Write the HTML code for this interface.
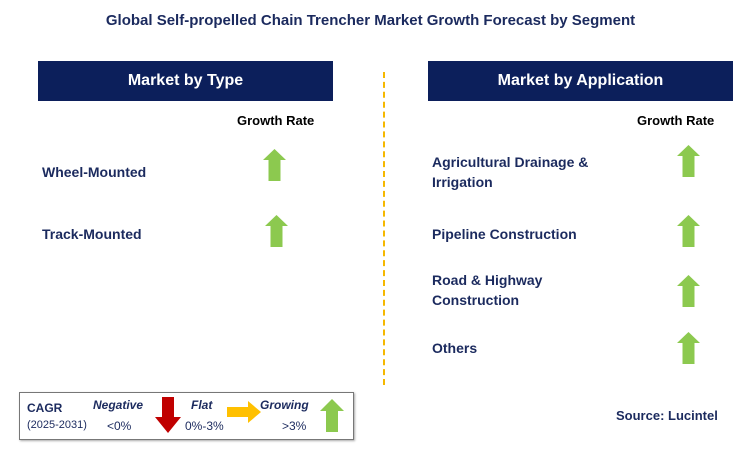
<!DOCTYPE html>
<html><head><meta charset="utf-8"><style>
body{margin:0;width:741px;height:464px;background:#fff;position:relative;font-family:"Liberation Sans",sans-serif;overflow:hidden}
.a{position:absolute}
.hdr{position:absolute;background:#0c1f5b;color:#fff;font-weight:bold;font-size:16px;display:flex;align-items:center;justify-content:center}
.lbl{position:absolute;color:#1b2a5e;font-weight:bold;font-size:14px;line-height:20px}
.gr{position:absolute;font-size:13px;font-weight:bold;color:#000}
</style></head><body>
<div class="a" style="left:0;width:741px;top:12px;text-align:center;font-weight:bold;font-size:15px;color:#1b2a5e">Global Self-propelled Chain Trencher Market Growth Forecast by Segment</div>
<div class="hdr" style="left:38px;top:61px;width:295px;height:40px">Market by Type</div>
<div class="hdr" style="left:428px;top:61px;width:305px;height:40px">Market by Application</div>
<div class="gr" style="left:237px;top:113px">Growth Rate</div>
<div class="gr" style="left:637px;top:113px">Growth Rate</div>
<div class="a" style="left:383px;top:72px;height:313px;border-left:2px dashed #f5b800"></div>
<div class="lbl" style="left:42px;top:162px">Wheel-Mounted</div>
<div class="lbl" style="left:42px;top:224px">Track-Mounted</div>
<div class="lbl" style="left:432px;top:152px">Agricultural Drainage &amp;<br>Irrigation</div>
<div class="lbl" style="left:432px;top:224px">Pipeline Construction</div>
<div class="lbl" style="left:432px;top:270px">Road &amp; Highway<br>Construction</div>
<div class="lbl" style="left:432px;top:338px">Others</div>
<svg class="a" style="left:0;top:0" width="741" height="464">
<defs><polygon id="up" points="11.5,0 23,11 17.5,11 17.5,32 5.5,32 5.5,11 0,11" fill="#8cc94f"/></defs>
<use href="#up" x="263" y="149"/>
<use href="#up" x="265" y="215"/>
<use href="#up" x="677" y="145"/>
<use href="#up" x="677" y="215"/>
<use href="#up" x="677" y="275"/>
<use href="#up" x="677" y="332"/>
</svg>
<div class="a" style="left:19px;top:392px;width:333px;height:46px;border:1px solid #777;box-shadow:1px 1px 2px #aaa">
<div class="a" style="left:7px;top:8px;font-size:12px;font-weight:bold;color:#1b2a5e">CAGR</div>
<div class="a" style="left:7px;top:26px;font-size:11px;color:#1b2a5e">(2025-2031)</div>
<div class="a" style="left:73px;top:5px;font-size:12px;font-weight:bold;font-style:italic;color:#1b2a5e">Negative</div>
<div class="a" style="left:87px;top:26px;font-size:12px;color:#1b2a5e">&lt;0%</div>
<div class="a" style="left:171px;top:5px;font-size:12px;font-weight:bold;font-style:italic;color:#1b2a5e">Flat</div>
<div class="a" style="left:165px;top:26px;font-size:12px;color:#1b2a5e">0%-3%</div>
<div class="a" style="left:240px;top:5px;font-size:12px;font-weight:bold;font-style:italic;color:#1b2a5e">Growing</div>
<div class="a" style="left:262px;top:26px;font-size:12px;color:#1b2a5e">&gt;3%</div>
<svg class="a" style="left:0;top:0" width="333" height="46">
<polygon points="142,4 154,4 154,24 161,24 148,40 135,24 142,24" fill="#c00000"/>
<polygon points="207,14 228,14 228,8 241,19 228,30 228,24 207,24" fill="#ffc000"/>
<polygon points="312,6 324,18 318,18 318,39 306,39 306,18 300,18" fill="#8cc94f"/>
</svg>
</div>
<div class="a" style="left:616px;top:408px;font-size:13px;font-weight:bold;color:#1b2a5e">Source: Lucintel</div>
</body></html>
